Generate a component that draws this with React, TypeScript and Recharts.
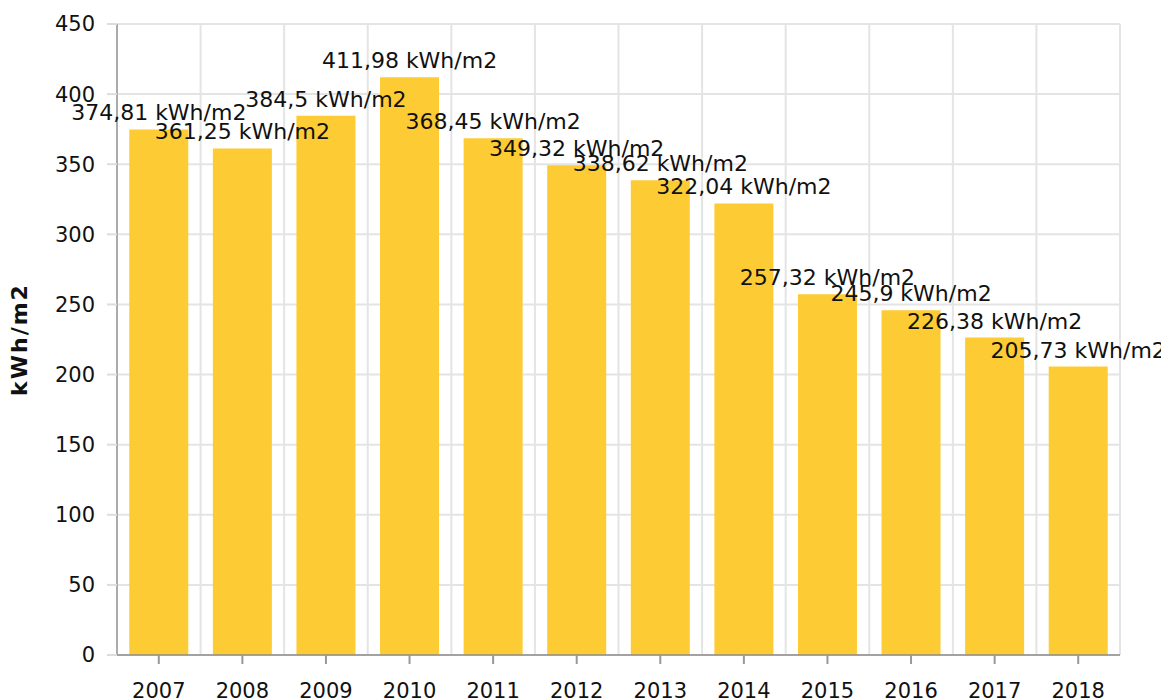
import { BarChart, Bar, XAxis, YAxis, CartesianGrid, LabelList } from 'recharts'

const years = ['2007', '2008', '2009', '2010', '2011', '2012', '2013', '2014', '2015', '2016', '2017', '2018']
const consumption = [374.81, 361.25, 384.5, 411.98, 368.45, 349.32, 338.62, 322.04, 257.32, 245.9, 226.38, 205.73]
const yTicks = [0, 50, 100, 150, 200, 250, 300, 350, 400, 450]
const unit = 'kWh/m2'

const data = years.map((year, i) => ({ year, value: consumption[i] }))

const font = 'DejaVu Sans, Verdana, sans-serif'

// grid lines sit between categories, not under the ticks
const boundaries = ({ offset }: any) =>
  Array.from({ length: years.length + 1 }, (_, i) => offset.left + (i * offset.width) / years.length)

// single-line value label centred over the bar (the default one wraps to bar width)
const ValueLabel = (props: any) => {
  const { x, y, width, value } = props
  return (
    <text
      x={x + width / 2}
      y={y - 9}
      textAnchor="middle"
      fill="#111"
      fontSize={22}
      fontFamily={font}
    >
      {`${String(value).replace('.', ',')} ${unit}`}
    </text>
  )
}

export default function App() {
  return (
    <div style={{ position: 'absolute', left: 0, top: 0, background: '#fff' }}>
      <BarChart
        width={1161}
        height={700}
        data={data}
        margin={{ top: 24, right: 41, bottom: 0, left: 0 }}
        barCategoryGap="14.7%"
      >
        <CartesianGrid
          stroke="#e4e4e4"
          strokeWidth={2}
          verticalCoordinatesGenerator={boundaries}
        />
        <XAxis
          dataKey="year"
          height={45}
          axisLine={{ stroke: '#8c8c8c', strokeWidth: 1.5 }}
          tickLine={{ stroke: '#999', strokeWidth: 2 }}
          tickSize={9}
          tickMargin={19}
          tick={{ fill: '#111', fontSize: 21, fontFamily: font }}
        />
        <YAxis
          width={117}
          domain={[0, 450]}
          ticks={yTicks}
          interval={0}
          axisLine={{ stroke: '#999', strokeWidth: 1.5 }}
          tickLine={{ stroke: '#ddd', strokeWidth: 2 }}
          tickSize={10}
          tickMargin={12}
          tick={{ fill: '#111', fontSize: 21, fontFamily: font }}
          label={{
            value: unit,
            angle: -90,
            position: 'insideLeft',
            dx: 14,
            style: { textAnchor: 'middle', fontSize: 22, fontWeight: 'bold', fill: '#111', fontFamily: font, letterSpacing: 2 },
          }}
        />
        <Bar dataKey="value" fill="#fdcb33" isAnimationActive={false}>
          <LabelList dataKey="value" content={ValueLabel} />
        </Bar>
      </BarChart>
    </div>
  )
}
